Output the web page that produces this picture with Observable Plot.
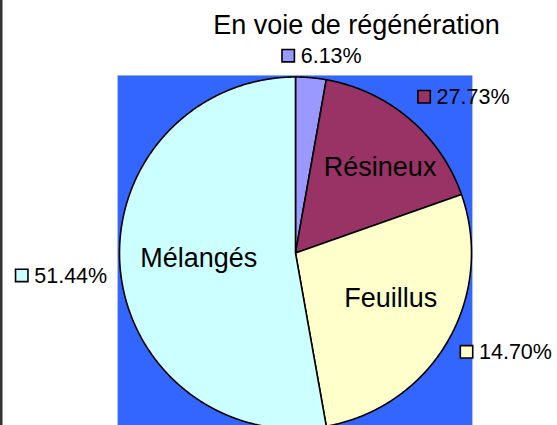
<!DOCTYPE html>
<html><head><meta charset="utf-8">
<script src="https://cdn.jsdelivr.net/npm/d3@7"></script>
<script src="https://cdn.jsdelivr.net/npm/@observablehq/plot@0.6"></script>
<style>body{margin:0;background:#fff;} svg{display:block;}</style>
</head><body><div id="chart"></div>
<script>
// ---- data ----
const title = "En voie de régénération";
const sliceNames = ["", "Résineux", "Feuillus", "Mélangés"];
const sliceValues = [2.8, 16.8, 27.6, 52.8];          // slice shares (angles as drawn)
const pctLabels = ["6.13%", "27.73%", "14.70%", "51.44%"]; // label texts as printed
const sliceColors = ["#9999FF", "#993366", "#FFFFCC", "#CCFFFF"];

// ---- layout ----
const W = 557, H = 425, cx = 295, cy = 252.5, R = 176;
const FONT = "'Liberation Sans', Arial, sans-serif";

const arcs = d3.pie().sort(null).value(d => d)(sliceValues);
const slices = arcs.map((a, i) => ({i, a0: a.startAngle, a1: a.endAngle, mid: (a.startAngle + a.endAngle) / 2}));

function slicePoly(s) {
  const pts = [{x: 0, y: 0}];
  const n = Math.max(4, Math.ceil((s.a1 - s.a0) / 0.005));
  for (let k = 0; k <= n; k++) {
    const a = s.a0 + (s.a1 - s.a0) * k / n;
    pts.push({x: Math.sin(a), y: Math.cos(a)});
  }
  pts.push({x: 0, y: 0});
  return pts;
}

// inside category labels: mid-angle at 0.62 radius, with small offsets (px)
const catOffsets = [[0, 0], [14, -2], [1, -10], [12, -4]];
const catData = slices.filter(s => sliceNames[s.i]).map(s => ({
  x: 0.62 * Math.sin(s.mid), y: 0.62 * Math.cos(s.mid), name: sliceNames[s.i],
  dx: catOffsets[s.i][0], dy: catOffsets[s.i][1]
}));

// outside value labels with legend key: anchored at mid angle, r = 1.08
const keyOffsets = [[-24, -8], [5.6, -11.3], [6.8, 3.1], [-84.4, 5.7]];
const keyData = slices.map(s => ({
  x: 1.08 * Math.sin(s.mid), y: 1.08 * Math.cos(s.mid), label: pctLabels[s.i],
  color: sliceColors[s.i], dx: keyOffsets[s.i][0], dy: keyOffsets[s.i][1]
}));

const marks = [
  Plot.frame({anchor: "left", stroke: "#333333", strokeWidth: 4}),
  Plot.rect([{}], {x1: -1.008, x2: 1.008, y1: -1.3, y2: 1.006, fill: "#3366FF"}),
  ...slices.map(s => Plot.line(slicePoly(s), {
    x: "x", y: "y", fill: sliceColors[s.i], stroke: "black", strokeWidth: 1.6, strokeLinejoin: "round"
  })),
  ...catData.map(d => Plot.text([d], {
    x: "x", y: "y", text: "name", dx: d.dx, dy: d.dy, fontSize: 27, fill: "black", lineAnchor: "middle"
  })),
  ...keyData.map(d => Plot.dot([d], {
    x: "x", y: "y", dx: d.dx, dy: d.dy, symbol: "square", r: 7, fill: d.color, stroke: "black", strokeWidth: 1.6
  })),
  ...keyData.map(d => Plot.text([d], {
    x: "x", y: "y", text: "label", dx: d.dx + 12.5, dy: d.dy + 0.5, fontSize: 21.5, fill: "black",
    textAnchor: "start", lineAnchor: "middle"
  })),
  Plot.text([title], {
    frameAnchor: "top-left", dx: 356, dy: 33.3, fontSize: 27, fill: "black",
    textAnchor: "middle", lineAnchor: "bottom"
  })
];

const chart = Plot.plot({
  width: W, height: H, margin: 0,
  style: {fontFamily: FONT, background: "white"},
  x: {domain: [-cx / R, (W - cx) / R], axis: null},
  y: {domain: [-(H - cy) / R, cy / R], axis: null},
  marks
});
document.getElementById("chart").append(chart);
</script>
</body></html>
